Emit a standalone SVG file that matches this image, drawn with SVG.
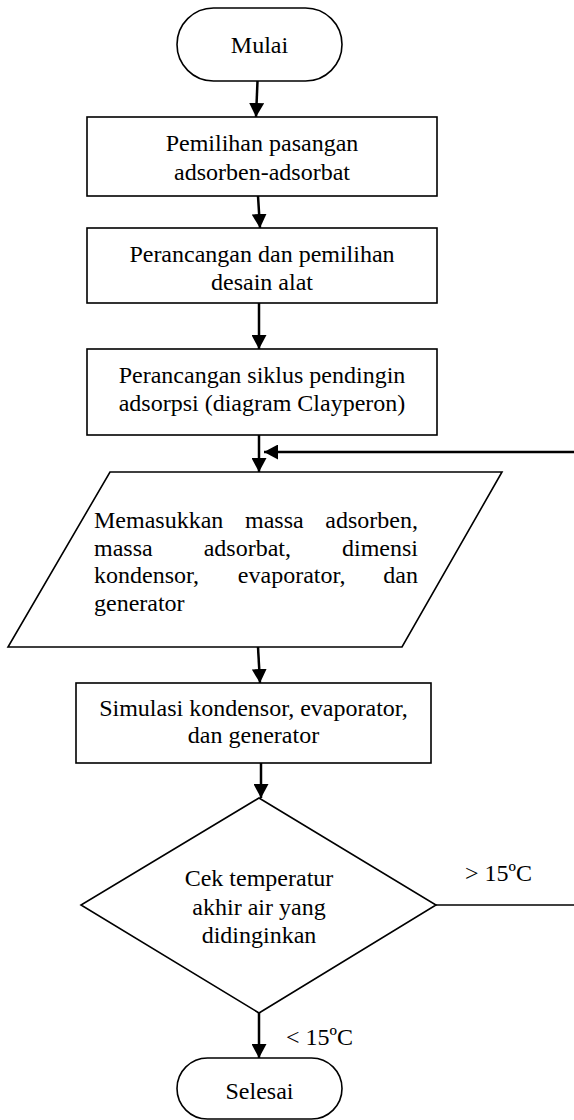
<svg xmlns="http://www.w3.org/2000/svg" width="574" height="1120" viewBox="0 0 574 1120">
<style>
  .shape { fill: #ffffff; stroke: #000000; stroke-width: 1.6; }
  .conn { fill: none; stroke: #000000; stroke-width: 2.5; }
  .thin { fill: none; stroke: #000000; stroke-width: 1.6; }
  text { font-family: "Liberation Serif", "Times New Roman", serif; font-size: 24px; fill: #000000; }
  .c { text-anchor: middle; }
  .e { text-anchor: end; }
</style>
<defs>
  <marker id="arr" viewBox="0 0 14 15" refX="14" refY="7.5" markerWidth="14" markerHeight="15" markerUnits="userSpaceOnUse" orient="auto">
    <path d="M0,0 L14,7.5 L0,15 z" fill="#000000"/>
  </marker>
</defs>
<rect width="574" height="1120" fill="#ffffff"/>

<g id="mulai">
  <rect class="shape" x="177" y="8" width="165" height="73" rx="36.5" ry="36.5"/>
  <text class="c" x="259.5" y="53">Mulai</text>
</g>

<g id="pemilihan">
  <rect class="shape" x="87" y="117" width="350" height="79"/>
  <text class="c" x="262" y="151">Pemilihan pasangan</text>
  <text class="c" x="262" y="180">adsorben-adsorbat</text>
</g>

<g id="perancangan-desain">
  <rect class="shape" x="87" y="228" width="350" height="75"/>
  <text class="c" x="262" y="262">Perancangan dan pemilihan</text>
  <text class="c" x="262" y="290">desain alat</text>
</g>

<g id="perancangan-siklus">
  <rect class="shape" x="87" y="349" width="350" height="86"/>
  <text class="c" x="262" y="383">Perancangan siklus pendingin</text>
  <text class="c" x="262" y="411">adsorpsi (diagram Clayperon)</text>
</g>

<g id="input">
  <polygon class="shape" points="110,472 502,472 402,647 8,647"/>
  <text x="94" y="528">Memasukkan</text>
  <text class="c" x="274.3" y="528">massa</text>
  <text class="e" x="418" y="528">adsorben,</text>
  <text x="94" y="556">massa</text>
  <text class="c" x="247.3" y="556">adsorbat,</text>
  <text class="e" x="418" y="556">dimensi</text>
  <text x="94" y="583">kondensor,</text>
  <text class="c" x="291.7" y="583">evaporator,</text>
  <text class="e" x="418" y="583">dan</text>
  <text x="94" y="611">generator</text>
</g>

<g id="simulasi">
  <rect class="shape" x="76" y="683" width="355" height="80"/>
  <text class="c" x="253.5" y="716">Simulasi kondensor, evaporator,</text>
  <text class="c" x="253.5" y="743">dan generator</text>
</g>

<g id="cek">
  <polygon class="shape" points="259,798 436,905 259,1013 81,905"/>
  <text class="c" x="259" y="886">Cek temperatur</text>
  <text class="c" x="259" y="915">akhir air yang</text>
  <text class="c" x="259" y="943">didinginkan</text>
</g>

<g id="selesai">
  <rect class="shape" x="177" y="1058" width="165" height="61" rx="30.5" ry="30.5"/>
  <text class="c" x="259.5" y="1099">Selesai</text>
</g>

<g id="connectors">
  <line class="conn" x1="257.5" y1="81" x2="256" y2="117" marker-end="url(#arr)"/>
  <line class="conn" x1="258" y1="196" x2="260" y2="228" marker-end="url(#arr)"/>
  <line class="conn" x1="259" y1="303" x2="259" y2="349" marker-end="url(#arr)"/>
  <line class="conn" x1="259" y1="435" x2="259" y2="472" marker-end="url(#arr)"/>
  <line class="conn" x1="574" y1="452" x2="264" y2="452" marker-end="url(#arr)"/>
  <line class="conn" x1="258" y1="647" x2="260" y2="683" marker-end="url(#arr)"/>
  <line class="conn" x1="261" y1="763" x2="261" y2="798" marker-end="url(#arr)"/>
  <line class="thin" x1="436" y1="905" x2="574" y2="905"/>
  <line class="conn" x1="259" y1="1013" x2="259" y2="1058" marker-end="url(#arr)"/>
  <text x="465" y="881">&gt; 15ºC</text>
  <text x="286" y="1045">&lt; 15ºC</text>
</g>
</svg>
